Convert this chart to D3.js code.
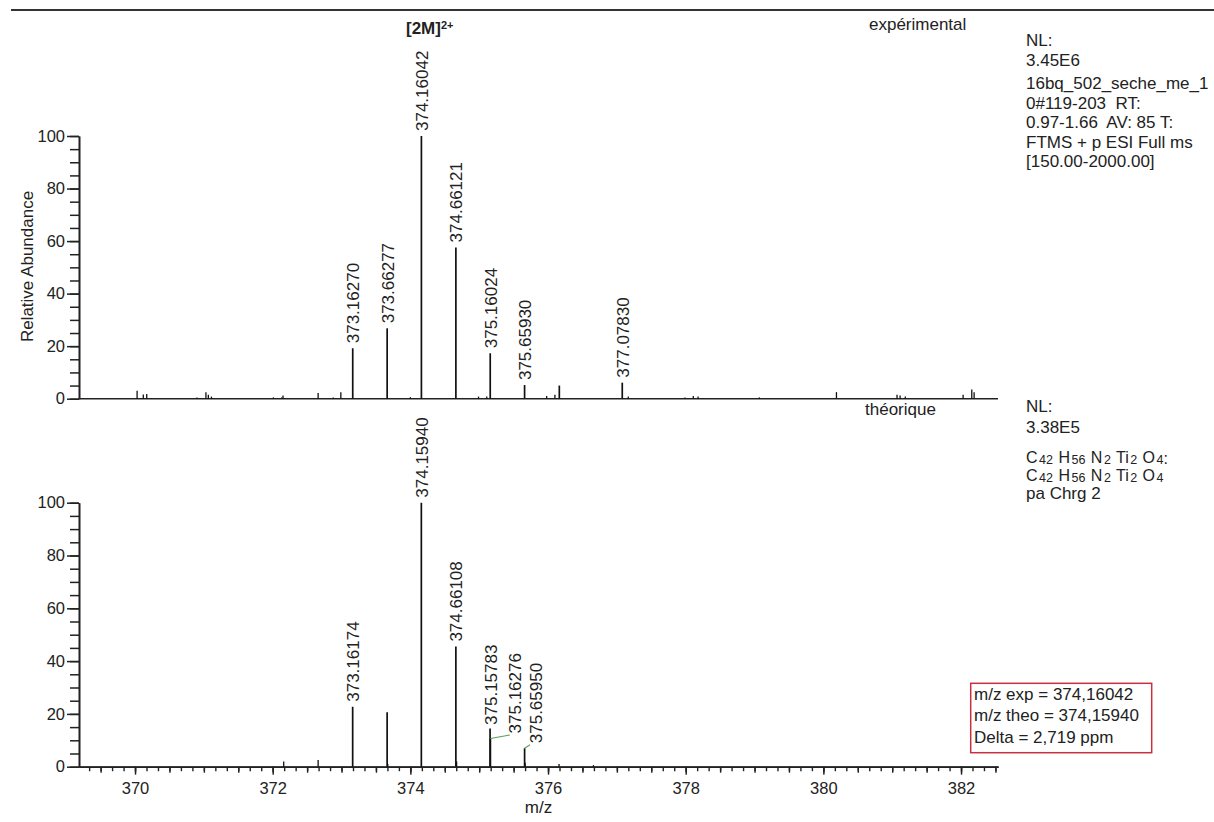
<!DOCTYPE html>
<html>
<head>
<meta charset="utf-8">
<script src="https://cdn.jsdelivr.net/npm/d3@7"></script>
<style>
  html, body { margin: 0; padding: 0; background: #fff; }
  svg { display: block; }
  text { font-family: "Liberation Sans", Arial, sans-serif; fill: #222; white-space: pre; }
</style>
</head>
<body>
<svg id="chart" width="1214" height="822"></svg>
<script>
// ---------------- DATA ----------------
// Experimental spectrum (m/z, relative abundance %)
const expMz  = [370.03, 370.12, 370.17, 370.90, 371.03, 371.065, 371.11, 372.01, 372.13, 372.15, 372.66, 372.88, 372.99,
                373.16270, 373.66277, 374.00, 374.16042, 374.66121, 374.99, 375.11, 375.16024, 375.65930,
                375.98, 376.10, 376.164, 377.07830, 377.166, 377.99, 378.11, 378.18, 379.07, 380.19,
                381.07, 381.115, 381.19, 382.03, 382.156, 382.19];
const expInt = [3.0, 1.6, 1.8, 0.5, 2.5, 1.5, 0.8, 0.5, 0.5, 1.2, 2.2, 0.5, 2.5,
                19.2, 26.8, 0.6, 100, 57.6, 0.8, 0.8, 17.3, 5.2,
                1.0, 1.5, 5.0, 6.1, 0.8, 0.5, 1.0, 0.8, 0.5, 2.5,
                1.5, 1.2, 0.8, 1.5, 3.5, 2.5];
const expLabels = ["373.16270", "373.66277", "374.16042", "374.66121", "375.16024", "375.65930", "377.07830"];

// Theoretical isotope pattern
const theoMz  = [372.16, 372.66, 373.16174, 373.66250, 373.672, 374.15940, 374.66108, 374.672,
                 375.15783, 375.16276, 375.65950, 375.668, 376.16, 376.66];
const theoInt = [2.0, 2.5, 22.7, 20.6, 1.0, 100, 45.5, 2.0,
                 14.5, 10.7, 7.0, 1.5, 1.0, 0.6];
const theoLabels = ["373.16174", "374.15940", "374.66108", "375.15783", "375.16276", "375.65950"];

const xMajorTicks = [370, 372, 374, 376, 378, 380, 382];
const yTicks = [0, 20, 40, 60, 80, 100];

const expInfo  = ["NL:", "3.45E6", "16bq_502_seche_me_1", "0#119-203  RT:", "0.97-1.66  AV: 85 T:", "FTMS + p ESI Full ms", "[150.00-2000.00]"];
const theoInfo = ["NL:", "3.38E5"];
const formula  = [["C", "42"], ["H", "56"], ["N", "2"], ["Ti", "2"], ["O", "4"]];
const boxLines = ["m/z exp = 374,16042", "m/z theo = 374,15940", "Delta = 2,719 ppm"];

// ---------------- LAYOUT ----------------
const svg = d3.select("#chart");
svg.append("rect").attr("width", 1214).attr("height", 822).attr("fill", "#fff");

const x = d3.scaleLinear().domain([369.186, 382.537]).range([79, 998]);
const yTop = d3.scaleLinear().domain([0, 100]).range([398.7, 136]);
const yBot = d3.scaleLinear().domain([0, 100]).range([766.7, 502.7]);

const FS = 17;
const ink = "#222";

// top rule
svg.append("line").attr("x1", 11).attr("x2", 1214).attr("y1", 10).attr("y2", 10)
  .attr("stroke", "#333").attr("stroke-width", 2);

function yAxis(scale) {
  const gMinor = svg.append("g").attr("transform", "translate(79,0)")
    .call(d3.axisLeft(scale).tickValues(d3.range(0, 101, 5)).tickSize(9).tickFormat("").tickSizeOuter(0));
  const g = svg.append("g").attr("transform", "translate(79,0)")
    .call(d3.axisLeft(scale).tickValues(yTicks).tickSize(12).tickPadding(2).tickSizeOuter(0));
  [gMinor, g].forEach(gg => {
    gg.selectAll("line").attr("stroke", ink).attr("stroke-width", 1.5);
    gg.select(".domain").attr("stroke", ink).attr("stroke-width", 1.6);
  });
  g.selectAll("text").style("font-size", (FS - 0.5) + "px").attr("fill", ink);
}
yAxis(yTop);
yAxis(yBot);

// top baseline (no ticks)
svg.append("line").attr("x1", 79).attr("x2", 998).attr("y1", yTop(0)).attr("y2", yTop(0))
  .attr("stroke", ink).attr("stroke-width", 1.6);

// bottom x axis with minor ticks
const d0 = x.domain()[0], d1 = x.domain()[1];
const minorVals = d3.range(Math.ceil(d0 * 6), Math.floor(d1 * 6) + 1).map(i => i / 6);
const halfVals = d3.range(Math.ceil(d0 * 2), Math.floor(d1 * 2) + 1).map(i => i / 2);
const xMinor = svg.append("g").attr("transform", `translate(0,${yBot(0)})`)
  .call(d3.axisBottom(x).tickValues(minorVals).tickSize(4.5).tickFormat("").tickSizeOuter(0));
const xHalf = svg.append("g").attr("transform", `translate(0,${yBot(0)})`)
  .call(d3.axisBottom(x).tickValues(halfVals).tickSize(6).tickFormat("").tickSizeOuter(0));
const xMain = svg.append("g").attr("transform", `translate(0,${yBot(0)})`)
  .call(d3.axisBottom(x).tickValues(xMajorTicks).tickSize(8).tickPadding(8).tickFormat(d3.format("d")).tickSizeOuter(0));
[xMinor, xHalf, xMain].forEach(gg => {
  gg.selectAll("line").attr("stroke", ink).attr("stroke-width", 1.4);
  gg.select(".domain").attr("stroke", ink).attr("stroke-width", 1.6);
});
xMain.selectAll("text").style("font-size", (FS - 0.5) + "px").attr("fill", ink);

// axis titles
svg.append("text").attr("transform", "translate(33,266.5) rotate(-90)")
  .attr("text-anchor", "middle").style("font-size", FS + "px").text("Relative Abundance");
svg.append("text").attr("x", 538.5).attr("y", 813).attr("text-anchor", "middle")
  .style("font-size", FS + "px").text("m/z");

// peaks
function drawPeaks(mz, inten, labels, yScale, offsets) {
  const data = mz.map((m, i) => ({ m, v: inten[i] }));
  svg.append("g").selectAll("line").data(data).join("line")
    .attr("x1", d => x(d.m)).attr("x2", d => x(d.m))
    .attr("y1", yScale(0)).attr("y2", d => yScale(d.v))
    .attr("stroke", "#111").attr("stroke-width", d => d.v > 4 ? 1.7 : 1.3);
  const lab = data.filter(d => labels.includes(d.m.toFixed(5)));
  lab.forEach(d => {
    const key = d.m.toFixed(5);
    const off = offsets[key] || { dx: 0.5, gap: 5 };
    const lx = x(d.m) + off.dx;        // centre of rotated label
    const ly = yScale(d.v) - off.gap;  // bottom of rotated label
    if (off.leader) {
      svg.append("line").attr("x1", x(d.m)).attr("y1", yScale(d.v))
        .attr("x2", lx - 5.5).attr("y2", ly + 1.5)
        .attr("stroke", "#5a9e5a").attr("stroke-width", 1.1);
    }
    svg.append("text").attr("transform", `translate(${lx + 6},${ly}) rotate(-90)`)
      .attr("text-anchor", "start").style("font-size", FS + "px").text(key);
  });
}
drawPeaks(expMz, expInt, expLabels, yTop, {});
drawPeaks(theoMz, theoInt, theoLabels, yBot, {
  "375.15783": { dx: 1, gap: 3.5 },
  "375.16276": { dx: 25, gap: 5, leader: true },
  "375.65950": { dx: 11, gap: 5, leader: true }
});

// panel titles
svg.append("text").attr("x", 869).attr("y", 30).style("font-size", FS + "px").text("expérimental");
svg.append("text").attr("x", 865).attr("y", 415).style("font-size", FS + "px").text("théorique");

const ion = svg.append("text").attr("x", 406).attr("y", 34).style("font-size", FS + "px").style("font-weight", "bold");
ion.append("tspan").text("[2M]");
ion.append("tspan").attr("dy", -5).style("font-size", "11px").text("2+");

// info text, top
const infoY = [46, 66, 89, 108.5, 128, 147.5, 167];
svg.append("g").selectAll("text").data(expInfo).join("text")
  .attr("x", 1026).attr("y", (d, i) => infoY[i]).style("font-size", FS + "px").text(d => d);

// info text, bottom
const infoY2 = [412, 432.5];
svg.append("g").selectAll("text").data(theoInfo).join("text")
  .attr("x", 1026).attr("y", (d, i) => infoY2[i]).style("font-size", FS + "px").text(d => d);

const FF = 16;
function formulaLine(y, suffix) {
  const t = svg.append("text").attr("x", 1026).attr("y", y).style("font-size", FF + "px");
  formula.forEach(([el, n], i) => {
    t.append("tspan").attr("dy", i === 0 ? 0 : -1.5).attr("dx", i === 0 ? 0 : 1).text((i === 0 ? "" : " ") + el);
    t.append("tspan").attr("dy", 1.5).attr("dx", 1.5).style("font-size", "12.5px").text(n);
  });
  if (suffix) t.append("tspan").text(suffix);
}
formulaLine(462.5, ":");
formulaLine(480.5, "");
svg.append("text").attr("x", 1026).attr("y", 498.5).style("font-size", FS + "px").text("pa Chrg 2");

// result box
svg.append("rect").attr("x", 970.7).attr("y", 683.3).attr("width", 181).attr("height", 69.4)
  .attr("fill", "#fff").attr("stroke", "#c8303e").attr("stroke-width", 1.5);
svg.append("g").selectAll("text").data(boxLines).join("text")
  .attr("x", 974).attr("y", (d, i) => 700 + i * 21.3).style("font-size", FS + "px").text(d => d);
</script>
</body>
</html>
